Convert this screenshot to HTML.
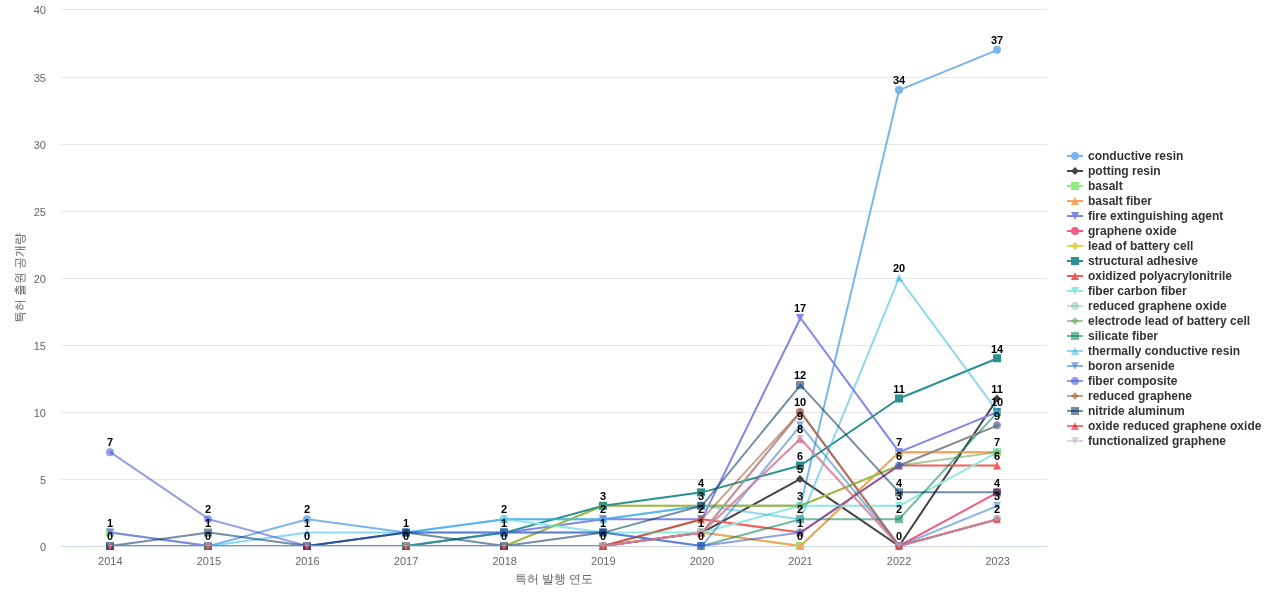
<!DOCTYPE html><html><head><meta charset="utf-8"><style>html,body{margin:0;padding:0;background:#fff;overflow:hidden}svg{display:block;will-change:transform;font-family:"Liberation Sans",sans-serif}</style></head><body>
<svg width="1280" height="600" viewBox="0 0 1280 600">
<rect width="1280" height="600" fill="#ffffff"/>
<defs><clipPath id="pc"><rect x="61" y="9" width="986" height="537"/></clipPath></defs>
<path d="M61 9.50L1047 9.50" stroke="#e6e6e6" stroke-width="1"/>
<path d="M61 77.50L1047 77.50" stroke="#e6e6e6" stroke-width="1"/>
<path d="M61 144.50L1047 144.50" stroke="#e6e6e6" stroke-width="1"/>
<path d="M61 211.50L1047 211.50" stroke="#e6e6e6" stroke-width="1"/>
<path d="M61 278.50L1047 278.50" stroke="#e6e6e6" stroke-width="1"/>
<path d="M61 345.50L1047 345.50" stroke="#e6e6e6" stroke-width="1"/>
<path d="M61 412.50L1047 412.50" stroke="#e6e6e6" stroke-width="1"/>
<path d="M61 479.50L1047 479.50" stroke="#e6e6e6" stroke-width="1"/>
<path d="M61 546.5L1047 546.5" stroke="#ccd6eb" stroke-width="1"/>
<text x="46" y="550.50" text-anchor="end" font-size="11" fill="#666666">0</text>
<text x="46" y="483.50" text-anchor="end" font-size="11" fill="#666666">5</text>
<text x="46" y="416.50" text-anchor="end" font-size="11" fill="#666666">10</text>
<text x="46" y="349.50" text-anchor="end" font-size="11" fill="#666666">15</text>
<text x="46" y="282.50" text-anchor="end" font-size="11" fill="#666666">20</text>
<text x="46" y="215.50" text-anchor="end" font-size="11" fill="#666666">25</text>
<text x="46" y="148.50" text-anchor="end" font-size="11" fill="#666666">30</text>
<text x="46" y="81.50" text-anchor="end" font-size="11" fill="#666666">35</text>
<text x="46" y="13.50" text-anchor="end" font-size="11" fill="#666666">40</text>
<text x="110.30" y="565" text-anchor="middle" font-size="11" fill="#666666">2014</text>
<text x="208.90" y="565" text-anchor="middle" font-size="11" fill="#666666">2015</text>
<text x="307.50" y="565" text-anchor="middle" font-size="11" fill="#666666">2016</text>
<text x="406.10" y="565" text-anchor="middle" font-size="11" fill="#666666">2017</text>
<text x="504.70" y="565" text-anchor="middle" font-size="11" fill="#666666">2018</text>
<text x="603.30" y="565" text-anchor="middle" font-size="11" fill="#666666">2019</text>
<text x="701.90" y="565" text-anchor="middle" font-size="11" fill="#666666">2020</text>
<text x="800.50" y="565" text-anchor="middle" font-size="11" fill="#666666">2021</text>
<text x="899.10" y="565" text-anchor="middle" font-size="11" fill="#666666">2022</text>
<text x="997.70" y="565" text-anchor="middle" font-size="11" fill="#666666">2023</text>
<text x="554" y="583" text-anchor="middle" font-size="12" fill="#666666">특허 발행 연도</text>
<text transform="translate(24 278) rotate(-90)" text-anchor="middle" font-size="12" fill="#666666">특허 출원 공개량</text>
<path clip-path="url(#pc)" d="M110.30 546.00 L208.90 546.00 L307.50 519.18 L406.10 532.59 L504.70 519.18 L603.30 519.18 L701.90 505.77 L800.50 505.77 L899.10 90.06 L997.70 49.83 " fill="none" stroke="#7cb5ec" stroke-opacity="1" stroke-width="2" stroke-linejoin="round" stroke-linecap="round"/>
<circle cx="110.00" cy="546.00" r="4" fill="#7cb5ec"/>
<circle cx="208.00" cy="546.00" r="4" fill="#7cb5ec"/>
<circle cx="307.00" cy="519.18" r="4" fill="#7cb5ec"/>
<circle cx="406.00" cy="532.59" r="4" fill="#7cb5ec"/>
<circle cx="504.00" cy="519.18" r="4" fill="#7cb5ec"/>
<circle cx="603.00" cy="519.18" r="4" fill="#7cb5ec"/>
<circle cx="701.00" cy="505.77" r="4" fill="#7cb5ec"/>
<circle cx="800.00" cy="505.77" r="4" fill="#7cb5ec"/>
<circle cx="899.00" cy="90.06" r="4" fill="#7cb5ec"/>
<circle cx="997.00" cy="49.83" r="4" fill="#7cb5ec"/>
<path clip-path="url(#pc)" d="M110.30 546.00 L208.90 546.00 L307.50 546.00 L406.10 546.00 L504.70 546.00 L603.30 546.00 L701.90 532.59 L800.50 478.95 L899.10 546.00 L997.70 398.49 " fill="none" stroke="#434348" stroke-opacity="1" stroke-width="2" stroke-linejoin="round" stroke-linecap="round"/>
<path d="M110.00 542.00L114.00 546.00L110.00 550.00L106.00 546.00Z" fill="#434348"/>
<path d="M208.00 542.00L212.00 546.00L208.00 550.00L204.00 546.00Z" fill="#434348"/>
<path d="M307.00 542.00L311.00 546.00L307.00 550.00L303.00 546.00Z" fill="#434348"/>
<path d="M406.00 542.00L410.00 546.00L406.00 550.00L402.00 546.00Z" fill="#434348"/>
<path d="M504.00 542.00L508.00 546.00L504.00 550.00L500.00 546.00Z" fill="#434348"/>
<path d="M603.00 542.00L607.00 546.00L603.00 550.00L599.00 546.00Z" fill="#434348"/>
<path d="M701.00 528.59L705.00 532.59L701.00 536.59L697.00 532.59Z" fill="#434348"/>
<path d="M800.00 474.95L804.00 478.95L800.00 482.95L796.00 478.95Z" fill="#434348"/>
<path d="M899.00 542.00L903.00 546.00L899.00 550.00L895.00 546.00Z" fill="#434348"/>
<path d="M997.00 394.49L1001.00 398.49L997.00 402.49L993.00 398.49Z" fill="#434348"/>
<path clip-path="url(#pc)" d="M110.30 532.59 L208.90 546.00 L307.50 546.00 L406.10 546.00 L504.70 546.00 L603.30 546.00 L701.90 532.59 L800.50 546.00 L899.10 452.13 L997.70 452.13 " fill="none" stroke="#90ed7d" stroke-opacity="1" stroke-width="2" stroke-linejoin="round" stroke-linecap="round"/>
<rect x="106.00" y="528.59" width="8" height="8" fill="#90ed7d"/>
<rect x="204.00" y="542.00" width="8" height="8" fill="#90ed7d"/>
<rect x="303.00" y="542.00" width="8" height="8" fill="#90ed7d"/>
<rect x="402.00" y="542.00" width="8" height="8" fill="#90ed7d"/>
<rect x="500.00" y="542.00" width="8" height="8" fill="#90ed7d"/>
<rect x="599.00" y="542.00" width="8" height="8" fill="#90ed7d"/>
<rect x="697.00" y="528.59" width="8" height="8" fill="#90ed7d"/>
<rect x="796.00" y="542.00" width="8" height="8" fill="#90ed7d"/>
<rect x="895.00" y="448.13" width="8" height="8" fill="#90ed7d"/>
<rect x="993.00" y="448.13" width="8" height="8" fill="#90ed7d"/>
<path clip-path="url(#pc)" d="M110.30 546.00 L208.90 546.00 L307.50 546.00 L406.10 546.00 L504.70 546.00 L603.30 546.00 L701.90 532.59 L800.50 546.00 L899.10 452.13 L997.70 452.13 " fill="none" stroke="#f7a35c" stroke-opacity="1" stroke-width="2" stroke-linejoin="round" stroke-linecap="round"/>
<path d="M110.00 542.00L114.00 550.00L106.00 550.00Z" fill="#f7a35c"/>
<path d="M208.00 542.00L212.00 550.00L204.00 550.00Z" fill="#f7a35c"/>
<path d="M307.00 542.00L311.00 550.00L303.00 550.00Z" fill="#f7a35c"/>
<path d="M406.00 542.00L410.00 550.00L402.00 550.00Z" fill="#f7a35c"/>
<path d="M504.00 542.00L508.00 550.00L500.00 550.00Z" fill="#f7a35c"/>
<path d="M603.00 542.00L607.00 550.00L599.00 550.00Z" fill="#f7a35c"/>
<path d="M701.00 528.59L705.00 536.59L697.00 536.59Z" fill="#f7a35c"/>
<path d="M800.00 542.00L804.00 550.00L796.00 550.00Z" fill="#f7a35c"/>
<path d="M899.00 448.13L903.00 456.13L895.00 456.13Z" fill="#f7a35c"/>
<path d="M997.00 448.13L1001.00 456.13L993.00 456.13Z" fill="#f7a35c"/>
<path clip-path="url(#pc)" d="M110.30 532.59 L208.90 546.00 L307.50 546.00 L406.10 546.00 L504.70 532.59 L603.30 519.18 L701.90 519.18 L800.50 318.03 L899.10 452.13 L997.70 411.90 " fill="none" stroke="#8085e9" stroke-opacity="1" stroke-width="2" stroke-linejoin="round" stroke-linecap="round"/>
<path d="M106.00 528.59L114.00 528.59L110.00 536.59Z" fill="#8085e9"/>
<path d="M204.00 542.00L212.00 542.00L208.00 550.00Z" fill="#8085e9"/>
<path d="M303.00 542.00L311.00 542.00L307.00 550.00Z" fill="#8085e9"/>
<path d="M402.00 542.00L410.00 542.00L406.00 550.00Z" fill="#8085e9"/>
<path d="M500.00 528.59L508.00 528.59L504.00 536.59Z" fill="#8085e9"/>
<path d="M599.00 515.18L607.00 515.18L603.00 523.18Z" fill="#8085e9"/>
<path d="M697.00 515.18L705.00 515.18L701.00 523.18Z" fill="#8085e9"/>
<path d="M796.00 314.03L804.00 314.03L800.00 322.03Z" fill="#8085e9"/>
<path d="M895.00 448.13L903.00 448.13L899.00 456.13Z" fill="#8085e9"/>
<path d="M993.00 407.90L1001.00 407.90L997.00 415.90Z" fill="#8085e9"/>
<path clip-path="url(#pc)" d="M110.30 546.00 L208.90 546.00 L307.50 546.00 L406.10 546.00 L504.70 546.00 L603.30 546.00 L701.90 532.59 L800.50 411.90 L899.10 546.00 L997.70 492.36 " fill="none" stroke="#f15c80" stroke-opacity="1" stroke-width="2" stroke-linejoin="round" stroke-linecap="round"/>
<circle cx="110.00" cy="546.00" r="4" fill="#f15c80"/>
<circle cx="208.00" cy="546.00" r="4" fill="#f15c80"/>
<circle cx="307.00" cy="546.00" r="4" fill="#f15c80"/>
<circle cx="406.00" cy="546.00" r="4" fill="#f15c80"/>
<circle cx="504.00" cy="546.00" r="4" fill="#f15c80"/>
<circle cx="603.00" cy="546.00" r="4" fill="#f15c80"/>
<circle cx="701.00" cy="532.59" r="4" fill="#f15c80"/>
<circle cx="800.00" cy="411.90" r="4" fill="#f15c80"/>
<circle cx="899.00" cy="546.00" r="4" fill="#f15c80"/>
<circle cx="997.00" cy="492.36" r="4" fill="#f15c80"/>
<path clip-path="url(#pc)" d="M110.30 546.00 L208.90 546.00 L307.50 546.00 L406.10 546.00 L504.70 546.00 L603.30 505.77 L701.90 505.77 L800.50 505.77 L899.10 465.54 L997.70 425.31 " fill="none" stroke="#e4d354" stroke-opacity="1" stroke-width="2" stroke-linejoin="round" stroke-linecap="round"/>
<path d="M110.00 542.00L114.00 546.00L110.00 550.00L106.00 546.00Z" fill="#e4d354"/>
<path d="M208.00 542.00L212.00 546.00L208.00 550.00L204.00 546.00Z" fill="#e4d354"/>
<path d="M307.00 542.00L311.00 546.00L307.00 550.00L303.00 546.00Z" fill="#e4d354"/>
<path d="M406.00 542.00L410.00 546.00L406.00 550.00L402.00 546.00Z" fill="#e4d354"/>
<path d="M504.00 542.00L508.00 546.00L504.00 550.00L500.00 546.00Z" fill="#e4d354"/>
<path d="M603.00 501.77L607.00 505.77L603.00 509.77L599.00 505.77Z" fill="#e4d354"/>
<path d="M701.00 501.77L705.00 505.77L701.00 509.77L697.00 505.77Z" fill="#e4d354"/>
<path d="M800.00 501.77L804.00 505.77L800.00 509.77L796.00 505.77Z" fill="#e4d354"/>
<path d="M899.00 461.54L903.00 465.54L899.00 469.54L895.00 465.54Z" fill="#e4d354"/>
<path d="M997.00 421.31L1001.00 425.31L997.00 429.31L993.00 425.31Z" fill="#e4d354"/>
<path clip-path="url(#pc)" d="M110.30 546.00 L208.90 546.00 L307.50 546.00 L406.10 546.00 L504.70 532.59 L603.30 505.77 L701.90 492.36 L800.50 465.54 L899.10 398.49 L997.70 358.26 " fill="none" stroke="#2b908f" stroke-opacity="1" stroke-width="2" stroke-linejoin="round" stroke-linecap="round"/>
<rect x="106.00" y="542.00" width="8" height="8" fill="#2b908f"/>
<rect x="204.00" y="542.00" width="8" height="8" fill="#2b908f"/>
<rect x="303.00" y="542.00" width="8" height="8" fill="#2b908f"/>
<rect x="402.00" y="542.00" width="8" height="8" fill="#2b908f"/>
<rect x="500.00" y="528.59" width="8" height="8" fill="#2b908f"/>
<rect x="599.00" y="501.77" width="8" height="8" fill="#2b908f"/>
<rect x="697.00" y="488.36" width="8" height="8" fill="#2b908f"/>
<rect x="796.00" y="461.54" width="8" height="8" fill="#2b908f"/>
<rect x="895.00" y="394.49" width="8" height="8" fill="#2b908f"/>
<rect x="993.00" y="354.26" width="8" height="8" fill="#2b908f"/>
<path clip-path="url(#pc)" d="M110.30 546.00 L208.90 546.00 L307.50 546.00 L406.10 546.00 L504.70 546.00 L603.30 546.00 L701.90 519.18 L800.50 532.59 L899.10 465.54 L997.70 465.54 " fill="none" stroke="#f45b5b" stroke-opacity="1" stroke-width="2" stroke-linejoin="round" stroke-linecap="round"/>
<path d="M110.00 542.00L114.00 550.00L106.00 550.00Z" fill="#f45b5b"/>
<path d="M208.00 542.00L212.00 550.00L204.00 550.00Z" fill="#f45b5b"/>
<path d="M307.00 542.00L311.00 550.00L303.00 550.00Z" fill="#f45b5b"/>
<path d="M406.00 542.00L410.00 550.00L402.00 550.00Z" fill="#f45b5b"/>
<path d="M504.00 542.00L508.00 550.00L500.00 550.00Z" fill="#f45b5b"/>
<path d="M603.00 542.00L607.00 550.00L599.00 550.00Z" fill="#f45b5b"/>
<path d="M701.00 515.18L705.00 523.18L697.00 523.18Z" fill="#f45b5b"/>
<path d="M800.00 528.59L804.00 536.59L796.00 536.59Z" fill="#f45b5b"/>
<path d="M899.00 461.54L903.00 469.54L895.00 469.54Z" fill="#f45b5b"/>
<path d="M997.00 461.54L1001.00 469.54L993.00 469.54Z" fill="#f45b5b"/>
<path clip-path="url(#pc)" d="M504.70 519.18 L603.30 532.59 L701.90 532.59 L800.50 505.77 L899.10 505.77 L997.70 452.13 " fill="none" stroke="#91e8e1" stroke-opacity="1" stroke-width="2" stroke-linejoin="round" stroke-linecap="round"/>
<path d="M500.00 515.18L508.00 515.18L504.00 523.18Z" fill="#91e8e1"/>
<path d="M599.00 528.59L607.00 528.59L603.00 536.59Z" fill="#91e8e1"/>
<path d="M697.00 528.59L705.00 528.59L701.00 536.59Z" fill="#91e8e1"/>
<path d="M796.00 501.77L804.00 501.77L800.00 509.77Z" fill="#91e8e1"/>
<path d="M895.00 501.77L903.00 501.77L899.00 509.77Z" fill="#91e8e1"/>
<path d="M993.00 448.13L1001.00 448.13L997.00 456.13Z" fill="#91e8e1"/>
<path clip-path="url(#pc)" d="M110.30 546.00 L208.90 546.00 L307.50 546.00 L406.10 546.00 L504.70 546.00 L603.30 546.00 L701.90 532.59 L800.50 411.90 L899.10 546.00 L997.70 519.18 " fill="none" stroke="#90c7ad" stroke-opacity="0.55" stroke-width="2" stroke-linejoin="round" stroke-linecap="round"/>
<circle cx="110.00" cy="546.00" r="4" fill="#90c7ad" fill-opacity="0.55"/>
<circle cx="208.00" cy="546.00" r="4" fill="#90c7ad" fill-opacity="0.55"/>
<circle cx="307.00" cy="546.00" r="4" fill="#90c7ad" fill-opacity="0.55"/>
<circle cx="406.00" cy="546.00" r="4" fill="#90c7ad" fill-opacity="0.55"/>
<circle cx="504.00" cy="546.00" r="4" fill="#90c7ad" fill-opacity="0.55"/>
<circle cx="603.00" cy="546.00" r="4" fill="#90c7ad" fill-opacity="0.55"/>
<circle cx="701.00" cy="532.59" r="4" fill="#90c7ad" fill-opacity="0.55"/>
<circle cx="800.00" cy="411.90" r="4" fill="#90c7ad" fill-opacity="0.55"/>
<circle cx="899.00" cy="546.00" r="4" fill="#90c7ad" fill-opacity="0.55"/>
<circle cx="997.00" cy="519.18" r="4" fill="#90c7ad" fill-opacity="0.55"/>
<path clip-path="url(#pc)" d="M110.30 546.00 L208.90 546.00 L307.50 546.00 L406.10 546.00 L504.70 546.00 L603.30 505.77 L701.90 505.77 L800.50 505.77 L899.10 465.54 L997.70 452.13 " fill="none" stroke="#61a24f" stroke-opacity="0.55" stroke-width="2" stroke-linejoin="round" stroke-linecap="round"/>
<path d="M110.00 542.00L114.00 546.00L110.00 550.00L106.00 546.00Z" fill="#61a24f" fill-opacity="0.55"/>
<path d="M208.00 542.00L212.00 546.00L208.00 550.00L204.00 546.00Z" fill="#61a24f" fill-opacity="0.55"/>
<path d="M307.00 542.00L311.00 546.00L307.00 550.00L303.00 546.00Z" fill="#61a24f" fill-opacity="0.55"/>
<path d="M406.00 542.00L410.00 546.00L406.00 550.00L402.00 546.00Z" fill="#61a24f" fill-opacity="0.55"/>
<path d="M504.00 542.00L508.00 546.00L504.00 550.00L500.00 546.00Z" fill="#61a24f" fill-opacity="0.55"/>
<path d="M603.00 501.77L607.00 505.77L603.00 509.77L599.00 505.77Z" fill="#61a24f" fill-opacity="0.55"/>
<path d="M701.00 501.77L705.00 505.77L701.00 509.77L697.00 505.77Z" fill="#61a24f" fill-opacity="0.55"/>
<path d="M800.00 501.77L804.00 505.77L800.00 509.77L796.00 505.77Z" fill="#61a24f" fill-opacity="0.55"/>
<path d="M899.00 461.54L903.00 465.54L899.00 469.54L895.00 465.54Z" fill="#61a24f" fill-opacity="0.55"/>
<path d="M997.00 448.13L1001.00 452.13L997.00 456.13L993.00 452.13Z" fill="#61a24f" fill-opacity="0.55"/>
<path clip-path="url(#pc)" d="M110.30 546.00 L208.90 546.00 L307.50 546.00 L406.10 546.00 L504.70 546.00 M701.90 546.00 L800.50 519.18 L899.10 519.18 L997.70 411.90 " fill="none" stroke="#008358" stroke-opacity="0.55" stroke-width="2" stroke-linejoin="round" stroke-linecap="round"/>
<rect x="106.00" y="542.00" width="8" height="8" fill="#008358" fill-opacity="0.55"/>
<rect x="204.00" y="542.00" width="8" height="8" fill="#008358" fill-opacity="0.55"/>
<rect x="303.00" y="542.00" width="8" height="8" fill="#008358" fill-opacity="0.55"/>
<rect x="402.00" y="542.00" width="8" height="8" fill="#008358" fill-opacity="0.55"/>
<rect x="500.00" y="542.00" width="8" height="8" fill="#008358" fill-opacity="0.55"/>
<rect x="697.00" y="542.00" width="8" height="8" fill="#008358" fill-opacity="0.55"/>
<rect x="796.00" y="515.18" width="8" height="8" fill="#008358" fill-opacity="0.55"/>
<rect x="895.00" y="515.18" width="8" height="8" fill="#008358" fill-opacity="0.55"/>
<rect x="993.00" y="407.90" width="8" height="8" fill="#008358" fill-opacity="0.55"/>
<path clip-path="url(#pc)" d="M110.30 546.00 L208.90 546.00 L307.50 532.59 L406.10 532.59 L504.70 519.18 L603.30 519.18 L701.90 505.77 L800.50 519.18 L899.10 277.80 L997.70 411.90 " fill="none" stroke="#33b8e4" stroke-opacity="0.55" stroke-width="2" stroke-linejoin="round" stroke-linecap="round"/>
<path d="M110.00 542.00L114.00 550.00L106.00 550.00Z" fill="#33b8e4" fill-opacity="0.55"/>
<path d="M208.00 542.00L212.00 550.00L204.00 550.00Z" fill="#33b8e4" fill-opacity="0.55"/>
<path d="M307.00 528.59L311.00 536.59L303.00 536.59Z" fill="#33b8e4" fill-opacity="0.55"/>
<path d="M406.00 528.59L410.00 536.59L402.00 536.59Z" fill="#33b8e4" fill-opacity="0.55"/>
<path d="M504.00 515.18L508.00 523.18L500.00 523.18Z" fill="#33b8e4" fill-opacity="0.55"/>
<path d="M603.00 515.18L607.00 523.18L599.00 523.18Z" fill="#33b8e4" fill-opacity="0.55"/>
<path d="M701.00 501.77L705.00 509.77L697.00 509.77Z" fill="#33b8e4" fill-opacity="0.55"/>
<path d="M800.00 515.18L804.00 523.18L796.00 523.18Z" fill="#33b8e4" fill-opacity="0.55"/>
<path d="M899.00 273.80L903.00 281.80L895.00 281.80Z" fill="#33b8e4" fill-opacity="0.55"/>
<path d="M997.00 407.90L1001.00 415.90L993.00 415.90Z" fill="#33b8e4" fill-opacity="0.55"/>
<path clip-path="url(#pc)" d="M110.30 546.00 L208.90 546.00 L307.50 546.00 L406.10 532.59 L504.70 532.59 L603.30 532.59 L701.90 546.00 L800.50 425.31 L899.10 546.00 L997.70 505.77 " fill="none" stroke="#2e7ac7" stroke-opacity="0.55" stroke-width="2" stroke-linejoin="round" stroke-linecap="round"/>
<path d="M106.00 542.00L114.00 542.00L110.00 550.00Z" fill="#2e7ac7" fill-opacity="0.55"/>
<path d="M204.00 542.00L212.00 542.00L208.00 550.00Z" fill="#2e7ac7" fill-opacity="0.55"/>
<path d="M303.00 542.00L311.00 542.00L307.00 550.00Z" fill="#2e7ac7" fill-opacity="0.55"/>
<path d="M402.00 528.59L410.00 528.59L406.00 536.59Z" fill="#2e7ac7" fill-opacity="0.55"/>
<path d="M500.00 528.59L508.00 528.59L504.00 536.59Z" fill="#2e7ac7" fill-opacity="0.55"/>
<path d="M599.00 528.59L607.00 528.59L603.00 536.59Z" fill="#2e7ac7" fill-opacity="0.55"/>
<path d="M697.00 542.00L705.00 542.00L701.00 550.00Z" fill="#2e7ac7" fill-opacity="0.55"/>
<path d="M796.00 421.31L804.00 421.31L800.00 429.31Z" fill="#2e7ac7" fill-opacity="0.55"/>
<path d="M895.00 542.00L903.00 542.00L899.00 550.00Z" fill="#2e7ac7" fill-opacity="0.55"/>
<path d="M993.00 501.77L1001.00 501.77L997.00 509.77Z" fill="#2e7ac7" fill-opacity="0.55"/>
<path clip-path="url(#pc)" d="M110.30 452.13 L208.90 519.18 L307.50 546.00 L406.10 532.59 L504.70 532.59 L603.30 532.59 L701.90 546.00 L800.50 532.59 L899.10 465.54 L997.70 425.31 " fill="none" stroke="#3c52ce" stroke-opacity="0.55" stroke-width="2" stroke-linejoin="round" stroke-linecap="round"/>
<circle cx="110.00" cy="452.13" r="4" fill="#3c52ce" fill-opacity="0.55"/>
<circle cx="208.00" cy="519.18" r="4" fill="#3c52ce" fill-opacity="0.55"/>
<circle cx="307.00" cy="546.00" r="4" fill="#3c52ce" fill-opacity="0.55"/>
<circle cx="406.00" cy="532.59" r="4" fill="#3c52ce" fill-opacity="0.55"/>
<circle cx="504.00" cy="532.59" r="4" fill="#3c52ce" fill-opacity="0.55"/>
<circle cx="603.00" cy="532.59" r="4" fill="#3c52ce" fill-opacity="0.55"/>
<circle cx="701.00" cy="546.00" r="4" fill="#3c52ce" fill-opacity="0.55"/>
<circle cx="800.00" cy="532.59" r="4" fill="#3c52ce" fill-opacity="0.55"/>
<circle cx="899.00" cy="465.54" r="4" fill="#3c52ce" fill-opacity="0.55"/>
<circle cx="997.00" cy="425.31" r="4" fill="#3c52ce" fill-opacity="0.55"/>
<path clip-path="url(#pc)" d="M110.30 546.00 L208.90 546.00 L307.50 546.00 L406.10 546.00 L504.70 546.00 L603.30 546.00 L701.90 519.18 L800.50 411.90 L899.10 546.00 L997.70 519.18 " fill="none" stroke="#9b5a2e" stroke-opacity="0.55" stroke-width="2" stroke-linejoin="round" stroke-linecap="round"/>
<path d="M110.00 542.00L114.00 546.00L110.00 550.00L106.00 546.00Z" fill="#9b5a2e" fill-opacity="0.55"/>
<path d="M208.00 542.00L212.00 546.00L208.00 550.00L204.00 546.00Z" fill="#9b5a2e" fill-opacity="0.55"/>
<path d="M307.00 542.00L311.00 546.00L307.00 550.00L303.00 546.00Z" fill="#9b5a2e" fill-opacity="0.55"/>
<path d="M406.00 542.00L410.00 546.00L406.00 550.00L402.00 546.00Z" fill="#9b5a2e" fill-opacity="0.55"/>
<path d="M504.00 542.00L508.00 546.00L504.00 550.00L500.00 546.00Z" fill="#9b5a2e" fill-opacity="0.55"/>
<path d="M603.00 542.00L607.00 546.00L603.00 550.00L599.00 546.00Z" fill="#9b5a2e" fill-opacity="0.55"/>
<path d="M701.00 515.18L705.00 519.18L701.00 523.18L697.00 519.18Z" fill="#9b5a2e" fill-opacity="0.55"/>
<path d="M800.00 407.90L804.00 411.90L800.00 415.90L796.00 411.90Z" fill="#9b5a2e" fill-opacity="0.55"/>
<path d="M899.00 542.00L903.00 546.00L899.00 550.00L895.00 546.00Z" fill="#9b5a2e" fill-opacity="0.55"/>
<path d="M997.00 515.18L1001.00 519.18L997.00 523.18L993.00 519.18Z" fill="#9b5a2e" fill-opacity="0.55"/>
<path clip-path="url(#pc)" d="M110.30 546.00 L208.90 532.59 L307.50 546.00 L406.10 532.59 L504.70 546.00 L603.30 532.59 L701.90 505.77 L800.50 385.08 L899.10 492.36 L997.70 492.36 " fill="none" stroke="#00325d" stroke-opacity="0.55" stroke-width="2" stroke-linejoin="round" stroke-linecap="round"/>
<rect x="106.00" y="542.00" width="8" height="8" fill="#00325d" fill-opacity="0.55"/>
<rect x="204.00" y="528.59" width="8" height="8" fill="#00325d" fill-opacity="0.55"/>
<rect x="303.00" y="542.00" width="8" height="8" fill="#00325d" fill-opacity="0.55"/>
<rect x="402.00" y="528.59" width="8" height="8" fill="#00325d" fill-opacity="0.55"/>
<rect x="500.00" y="542.00" width="8" height="8" fill="#00325d" fill-opacity="0.55"/>
<rect x="599.00" y="528.59" width="8" height="8" fill="#00325d" fill-opacity="0.55"/>
<rect x="697.00" y="501.77" width="8" height="8" fill="#00325d" fill-opacity="0.55"/>
<rect x="796.00" y="381.08" width="8" height="8" fill="#00325d" fill-opacity="0.55"/>
<rect x="895.00" y="488.36" width="8" height="8" fill="#00325d" fill-opacity="0.55"/>
<rect x="993.00" y="488.36" width="8" height="8" fill="#00325d" fill-opacity="0.55"/>
<path clip-path="url(#pc)" d="M110.30 546.00 L208.90 546.00 L307.50 546.00 L406.10 546.00 L504.70 546.00 L603.30 546.00 L701.90 532.59 L800.50 438.72 L899.10 546.00 L997.70 519.18 " fill="none" stroke="#e40a18" stroke-opacity="0.55" stroke-width="2" stroke-linejoin="round" stroke-linecap="round"/>
<path d="M110.00 542.00L114.00 550.00L106.00 550.00Z" fill="#e40a18" fill-opacity="0.55"/>
<path d="M208.00 542.00L212.00 550.00L204.00 550.00Z" fill="#e40a18" fill-opacity="0.55"/>
<path d="M307.00 542.00L311.00 550.00L303.00 550.00Z" fill="#e40a18" fill-opacity="0.55"/>
<path d="M406.00 542.00L410.00 550.00L402.00 550.00Z" fill="#e40a18" fill-opacity="0.55"/>
<path d="M504.00 542.00L508.00 550.00L500.00 550.00Z" fill="#e40a18" fill-opacity="0.55"/>
<path d="M603.00 542.00L607.00 550.00L599.00 550.00Z" fill="#e40a18" fill-opacity="0.55"/>
<path d="M701.00 528.59L705.00 536.59L697.00 536.59Z" fill="#e40a18" fill-opacity="0.55"/>
<path d="M800.00 434.72L804.00 442.72L796.00 442.72Z" fill="#e40a18" fill-opacity="0.55"/>
<path d="M899.00 542.00L903.00 550.00L895.00 550.00Z" fill="#e40a18" fill-opacity="0.55"/>
<path d="M997.00 515.18L1001.00 523.18L993.00 523.18Z" fill="#e40a18" fill-opacity="0.55"/>
<path clip-path="url(#pc)" d="M110.30 546.00 L208.90 546.00 L307.50 546.00 L406.10 546.00 L504.70 546.00 L603.30 546.00 L701.90 532.59 L800.50 438.72 L899.10 546.00 L997.70 519.18 " fill="none" stroke="#caaad2" stroke-opacity="0.55" stroke-width="2" stroke-linejoin="round" stroke-linecap="round"/>
<path d="M106.00 542.00L114.00 542.00L110.00 550.00Z" fill="#caaad2" fill-opacity="0.55"/>
<path d="M204.00 542.00L212.00 542.00L208.00 550.00Z" fill="#caaad2" fill-opacity="0.55"/>
<path d="M303.00 542.00L311.00 542.00L307.00 550.00Z" fill="#caaad2" fill-opacity="0.55"/>
<path d="M402.00 542.00L410.00 542.00L406.00 550.00Z" fill="#caaad2" fill-opacity="0.55"/>
<path d="M500.00 542.00L508.00 542.00L504.00 550.00Z" fill="#caaad2" fill-opacity="0.55"/>
<path d="M599.00 542.00L607.00 542.00L603.00 550.00Z" fill="#caaad2" fill-opacity="0.55"/>
<path d="M697.00 528.59L705.00 528.59L701.00 536.59Z" fill="#caaad2" fill-opacity="0.55"/>
<path d="M796.00 434.72L804.00 434.72L800.00 442.72Z" fill="#caaad2" fill-opacity="0.55"/>
<path d="M895.00 542.00L903.00 542.00L899.00 550.00Z" fill="#caaad2" fill-opacity="0.55"/>
<path d="M993.00 515.18L1001.00 515.18L997.00 523.18Z" fill="#caaad2" fill-opacity="0.55"/>
<g font-size="11" font-weight="bold" fill="#000000" text-anchor="middle">
<text x="110" y="446">7</text>
<text x="110" y="527">1</text>
<text x="110" y="540">0</text>
<text x="208" y="513">2</text>
<text x="208" y="527">1</text>
<text x="208" y="540">0</text>
<text x="307" y="513">2</text>
<text x="307" y="527">1</text>
<text x="307" y="540">0</text>
<text x="406" y="527">1</text>
<text x="406" y="540">0</text>
<text x="504" y="513">2</text>
<text x="504" y="527">1</text>
<text x="504" y="540">0</text>
<text x="603" y="500">3</text>
<text x="603" y="513">2</text>
<text x="603" y="527">1</text>
<text x="603" y="540">0</text>
<text x="701" y="487">4</text>
<text x="701" y="500">3</text>
<text x="701" y="513">2</text>
<text x="701" y="527">1</text>
<text x="701" y="540">0</text>
<text x="800" y="312">17</text>
<text x="800" y="379">12</text>
<text x="800" y="406">10</text>
<text x="800" y="420">9</text>
<text x="800" y="433">8</text>
<text x="800" y="460">6</text>
<text x="800" y="473">5</text>
<text x="800" y="500">3</text>
<text x="800" y="513">2</text>
<text x="800" y="527">1</text>
<text x="800" y="540">0</text>
<text x="899" y="84">34</text>
<text x="899" y="272">20</text>
<text x="899" y="393">11</text>
<text x="899" y="446">7</text>
<text x="899" y="460">6</text>
<text x="899" y="487">4</text>
<text x="899" y="500">3</text>
<text x="899" y="513">2</text>
<text x="899" y="540">0</text>
<text x="997" y="44">37</text>
<text x="997" y="353">14</text>
<text x="997" y="393">11</text>
<text x="997" y="406">10</text>
<text x="997" y="420">9</text>
<text x="997" y="446">7</text>
<text x="997" y="460">6</text>
<text x="997" y="487">4</text>
<text x="997" y="500">3</text>
<text x="997" y="513">2</text>
</g>
<g font-size="12" font-weight="bold" fill="#333333">
<path d="M1067 156L1083 156" stroke="#7cb5ec" stroke-opacity="1" stroke-width="2"/>
<circle cx="1075.00" cy="156.00" r="4" fill="#7cb5ec"/>
<text x="1088" y="160">conductive resin</text>
<path d="M1067 171L1083 171" stroke="#434348" stroke-opacity="1" stroke-width="2"/>
<path d="M1075.00 167.00L1079.00 171.00L1075.00 175.00L1071.00 171.00Z" fill="#434348"/>
<text x="1088" y="175">potting resin</text>
<path d="M1067 186L1083 186" stroke="#90ed7d" stroke-opacity="1" stroke-width="2"/>
<rect x="1071.00" y="182.00" width="8" height="8" fill="#90ed7d"/>
<text x="1088" y="190">basalt</text>
<path d="M1067 201L1083 201" stroke="#f7a35c" stroke-opacity="1" stroke-width="2"/>
<path d="M1075.00 197.00L1079.00 205.00L1071.00 205.00Z" fill="#f7a35c"/>
<text x="1088" y="205">basalt fiber</text>
<path d="M1067 216L1083 216" stroke="#8085e9" stroke-opacity="1" stroke-width="2"/>
<path d="M1071.00 212.00L1079.00 212.00L1075.00 220.00Z" fill="#8085e9"/>
<text x="1088" y="220">fire extinguishing agent</text>
<path d="M1067 231L1083 231" stroke="#f15c80" stroke-opacity="1" stroke-width="2"/>
<circle cx="1075.00" cy="231.00" r="4" fill="#f15c80"/>
<text x="1088" y="235">graphene oxide</text>
<path d="M1067 246L1083 246" stroke="#e4d354" stroke-opacity="1" stroke-width="2"/>
<path d="M1075.00 242.00L1079.00 246.00L1075.00 250.00L1071.00 246.00Z" fill="#e4d354"/>
<text x="1088" y="250">lead of battery cell</text>
<path d="M1067 261L1083 261" stroke="#2b908f" stroke-opacity="1" stroke-width="2"/>
<rect x="1071.00" y="257.00" width="8" height="8" fill="#2b908f"/>
<text x="1088" y="265">structural adhesive</text>
<path d="M1067 276L1083 276" stroke="#f45b5b" stroke-opacity="1" stroke-width="2"/>
<path d="M1075.00 272.00L1079.00 280.00L1071.00 280.00Z" fill="#f45b5b"/>
<text x="1088" y="280">oxidized polyacrylonitrile</text>
<path d="M1067 291L1083 291" stroke="#91e8e1" stroke-opacity="1" stroke-width="2"/>
<path d="M1071.00 287.00L1079.00 287.00L1075.00 295.00Z" fill="#91e8e1"/>
<text x="1088" y="295">fiber carbon fiber</text>
<path d="M1067 306L1083 306" stroke="#90c7ad" stroke-opacity="0.55" stroke-width="2"/>
<circle cx="1075.00" cy="306.00" r="4" fill="#90c7ad" fill-opacity="0.55"/>
<text x="1088" y="310">reduced graphene oxide</text>
<path d="M1067 321L1083 321" stroke="#61a24f" stroke-opacity="0.55" stroke-width="2"/>
<path d="M1075.00 317.00L1079.00 321.00L1075.00 325.00L1071.00 321.00Z" fill="#61a24f" fill-opacity="0.55"/>
<text x="1088" y="325">electrode lead of battery cell</text>
<path d="M1067 336L1083 336" stroke="#008358" stroke-opacity="0.55" stroke-width="2"/>
<rect x="1071.00" y="332.00" width="8" height="8" fill="#008358" fill-opacity="0.55"/>
<text x="1088" y="340">silicate fiber</text>
<path d="M1067 351L1083 351" stroke="#33b8e4" stroke-opacity="0.55" stroke-width="2"/>
<path d="M1075.00 347.00L1079.00 355.00L1071.00 355.00Z" fill="#33b8e4" fill-opacity="0.55"/>
<text x="1088" y="355">thermally conductive resin</text>
<path d="M1067 366L1083 366" stroke="#2e7ac7" stroke-opacity="0.55" stroke-width="2"/>
<path d="M1071.00 362.00L1079.00 362.00L1075.00 370.00Z" fill="#2e7ac7" fill-opacity="0.55"/>
<text x="1088" y="370">boron arsenide</text>
<path d="M1067 381L1083 381" stroke="#3c52ce" stroke-opacity="0.55" stroke-width="2"/>
<circle cx="1075.00" cy="381.00" r="4" fill="#3c52ce" fill-opacity="0.55"/>
<text x="1088" y="385">fiber composite</text>
<path d="M1067 396L1083 396" stroke="#9b5a2e" stroke-opacity="0.55" stroke-width="2"/>
<path d="M1075.00 392.00L1079.00 396.00L1075.00 400.00L1071.00 396.00Z" fill="#9b5a2e" fill-opacity="0.55"/>
<text x="1088" y="400">reduced graphene</text>
<path d="M1067 411L1083 411" stroke="#00325d" stroke-opacity="0.55" stroke-width="2"/>
<rect x="1071.00" y="407.00" width="8" height="8" fill="#00325d" fill-opacity="0.55"/>
<text x="1088" y="415">nitride aluminum</text>
<path d="M1067 426L1083 426" stroke="#e40a18" stroke-opacity="0.55" stroke-width="2"/>
<path d="M1075.00 422.00L1079.00 430.00L1071.00 430.00Z" fill="#e40a18" fill-opacity="0.55"/>
<text x="1088" y="430">oxide reduced graphene oxide</text>
<path d="M1067 441L1083 441" stroke="#caaad2" stroke-opacity="0.55" stroke-width="2"/>
<path d="M1071.00 437.00L1079.00 437.00L1075.00 445.00Z" fill="#caaad2" fill-opacity="0.55"/>
<text x="1088" y="445">functionalized graphene</text>
</g>
</svg></body></html>
